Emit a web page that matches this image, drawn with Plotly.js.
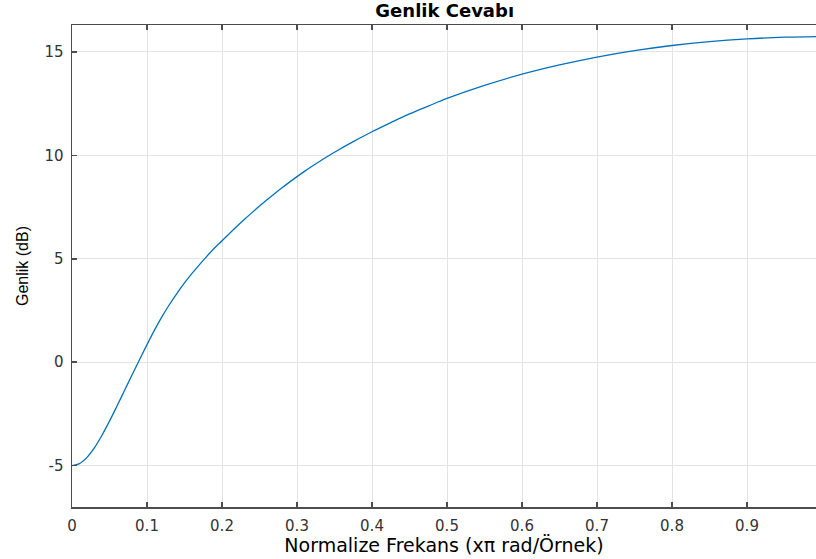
<!DOCTYPE html>
<html>
<head>
<meta charset="utf-8">
<script src="https://cdn.plot.ly/plotly-3.0.1.min.js"></script>
<style>html,body{margin:0;padding:0;background:#fff;}#chart{width:816px;height:559px;}</style>
</head>
<body>
<div id="chart"></div>
<script>
// Normalized frequency (x pi rad/sample)
const freq = [0, 0.01, 0.02, 0.03, 0.04, 0.05, 0.06, 0.07, 0.08, 0.09, 0.1, 0.11, 0.12, 0.13, 0.14, 0.15, 0.16, 0.17, 0.18, 0.19, 0.2,
              0.21, 0.22, 0.23, 0.24, 0.25, 0.26, 0.27, 0.28, 0.29, 0.3, 0.31, 0.32, 0.33, 0.34, 0.35,
              0.375, 0.4, 0.425, 0.45, 0.475, 0.5, 0.55, 0.6, 0.65, 0.7, 0.75, 0.8, 0.85, 0.9, 0.95, 0.992];
// Magnitude (dB)
const magDb = [-5.0, -4.90, -4.60, -4.13, -3.53, -2.85, -2.12, -1.37, -0.62, 0.12, 0.85, 1.55, 2.20, 2.79, 3.33, 3.83, 4.29, 4.72, 5.13, 5.52, 5.87,
               6.225, 6.57, 6.905, 7.23, 7.545, 7.85, 8.145, 8.43, 8.705, 8.97, 9.225, 9.47, 9.705, 9.931, 10.15,
               10.66, 11.14, 11.58, 12.0, 12.38, 12.75, 13.38, 13.92, 14.37, 14.75, 15.06, 15.31, 15.5, 15.63, 15.71, 15.74];
const xTicks = [0, 0.1, 0.2, 0.3, 0.4, 0.5, 0.6, 0.7, 0.8, 0.9];
const xTickLabels = ['0', '0.1', '0.2', '0.3', '0.4', '0.5', '0.6', '0.7', '0.8', '0.9'];
const yTicks = [-5, 0, 5, 10, 15];
const yTickLabels = ['-5', '0', '5', '10', '15'];

const axisColor = '#4d4d4d';
const tickFont = {family: 'DejaVu Sans, sans-serif', size: 15, color: '#333333'};

Plotly.newPlot('chart', [{
  x: freq, y: magDb, type: 'scatter', mode: 'lines',
  line: {color: '#0072BD', width: 1.3, shape: 'spline', smoothing: 1},
  hoverinfo: 'skip'
}], {
  width: 816, height: 559,
  margin: {l: 72, r: 0, t: 25, b: 52},
  paper_bgcolor: '#fff', plot_bgcolor: '#fff',
  showlegend: false,
  title: {text: '<b>Genlik Cevabı</b>', font: {family: 'DejaVu Sans, sans-serif', size: 18, color: '#000'},
          x: 0.545, xanchor: 'center', y: 0.993, yanchor: 'top', xref: 'container', yref: 'container'},
  xaxis: {
    range: [0, 0.992], tickvals: xTicks, ticktext: xTickLabels,
    ticks: 'inside', ticklen: 5, tickwidth: 1.5, tickcolor: axisColor,
    showline: true, linecolor: axisColor, linewidth: 1.5, mirror: 'ticks',
    showgrid: true, gridcolor: '#e3e3e3', gridwidth: 1, zeroline: false,
    tickfont: tickFont, ticklabelstandoff: 4,
    title: {text: 'Normalize Frekans (xπ rad/Örnek)', font: {family: 'DejaVu Sans, sans-serif', size: 19, color: '#000'}, standoff: 3}
  },
  yaxis: {
    range: [-7, 16.3], tickvals: yTicks, ticktext: yTickLabels,
    ticks: 'inside', ticklen: 5, tickwidth: 1.5, tickcolor: axisColor,
    showline: true, linecolor: axisColor, linewidth: 1.5, mirror: false,
    showgrid: true, gridcolor: '#e3e3e3', gridwidth: 1, zeroline: false,
    tickfont: tickFont, ticklabelstandoff: 4,
    title: {text: 'Genlik (dB)', font: {family: 'Liberation Sans, Arial, sans-serif', size: 16, color: '#000'}, standoff: 12}
  }
}, {displayModeBar: false, staticPlot: true});
</script>
</body>
</html>
